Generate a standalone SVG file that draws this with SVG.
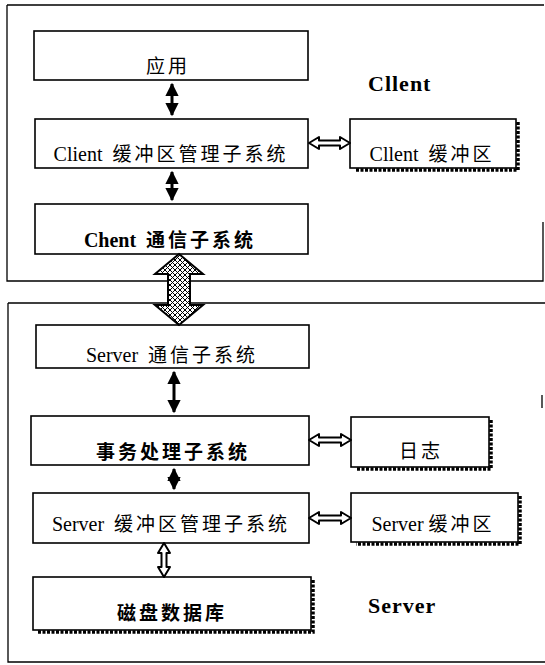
<svg xmlns="http://www.w3.org/2000/svg" width="545" height="665" viewBox="0 0 545 665">
  <style>
    .frame { fill: none; stroke: #000; stroke-width: 1.3; }
    .box { fill: #fff; stroke: #000; stroke-width: 1.6; }
    .shadow { fill: none; stroke: #000; stroke-width: 3.5; stroke-dasharray: 3 1.5; }
    .label { font-family: "Liberation Serif", "Noto Sans CJK SC", serif; font-size: 19px; fill: #000; text-anchor: middle; letter-spacing: 3px; }
    .lat { letter-spacing: 0; font-size: 20px; }
    .bold { font-weight: bold; }
    .side { font-family: "Liberation Serif", serif; font-size: 22px; font-weight: bold; fill: #000; letter-spacing: 1px; }
    .solid { stroke: #000; stroke-width: 3; marker-start: url(#tri); marker-end: url(#tri); }
    .hollow { fill: #fff; stroke: #000; stroke-width: 2; stroke-linejoin: round; }
    .big { fill: url(#hatch); stroke: #000; stroke-width: 2; }
  </style>
  <defs>
    <marker id="tri" viewBox="0 0 10 10" refX="9" refY="5" markerWidth="4.6" markerHeight="4.4" orient="auto-start-reverse">
      <path d="M0,0 L10,5 L0,10 z" fill="#000"/>
    </marker>
    <pattern id="hatch" width="5" height="5" patternUnits="userSpaceOnUse">
      <rect width="5" height="5" fill="#fff"/>
      <path d="M0,0 L5,5 M5,0 L0,5" stroke="#000" stroke-width="1"/>
    </pattern>
  </defs>

  <!-- client and server frames -->
  <g id="client-frame">
    <path class="frame" d="M7,5 H544 M7,5 V281 H543 V222"/>
    <text class="side" x="368" y="91">Cllent</text>
  </g>
  <g id="server-frame">
    <path class="frame" d="M8,303 H545 M8,303 V662 H545 M542,395 V408"/>
    <text class="side" x="368" y="613">Server</text>
  </g>

  <!-- client side -->
  <g id="app">
    <rect class="box" x="34" y="31" width="274" height="49"/>
    <text class="label" x="168" y="73">应用</text>
  </g>
  <g id="client-buffer-manager">
    <rect class="box" x="35" y="119" width="273" height="49"/>
    <text class="label" x="171" y="161"><tspan class="lat">Client</tspan><tspan dx="10">缓冲区管理子系统</tspan></text>
  </g>
  <g id="client-buffer">
    <path class="shadow" d="M518,122 V170 H355"/>
    <rect class="box" x="350" y="119" width="166" height="49"/>
    <text class="label" x="432" y="161"><tspan class="lat">Cllent</tspan><tspan dx="10">缓冲区</tspan></text>
  </g>
  <g id="client-comm">
    <rect class="box" x="35" y="204" width="273" height="50"/>
    <text class="label bold" x="170" y="247"><tspan class="lat">Chent</tspan><tspan dx="10">通信子系统</tspan></text>
  </g>

  <!-- server side -->
  <g id="server-comm">
    <rect class="box" x="36" y="325" width="273" height="43"/>
    <text class="label" x="172" y="362"><tspan class="lat">Server</tspan><tspan dx="10">通信子系统</tspan></text>
  </g>
  <g id="transaction">
    <rect class="box" x="31" y="416" width="278" height="49"/>
    <text class="label bold" x="173" y="459">事务处理子系统</text>
  </g>
  <g id="log">
    <path class="shadow" d="M491,420 V469 H356"/>
    <rect class="box" x="351" y="417" width="138" height="50"/>
    <text class="label" x="421" y="458">日志</text>
  </g>
  <g id="server-buffer-manager">
    <rect class="box" x="33" y="493" width="276" height="50"/>
    <text class="label" x="171" y="531"><tspan class="lat">Server</tspan><tspan dx="10">缓冲区管理子系统</tspan></text>
  </g>
  <g id="server-buffer">
    <path class="shadow" d="M520,496 V544 H356"/>
    <rect class="box" x="351" y="493" width="167" height="49"/>
    <text class="label" x="433" y="531"><tspan class="lat">Server</tspan><tspan dx="5">缓冲区</tspan></text>
  </g>
  <g id="disk-database">
    <path class="shadow" d="M313,580 V632 H38"/>
    <rect class="box" x="33" y="577" width="278" height="53"/>
    <text class="label bold" x="172" y="620">磁盘数据库</text>
  </g>

  <!-- connectors -->
  <g id="connectors">
    <line class="solid" x1="172" y1="84" x2="172" y2="115"/>
    <line class="solid" x1="172" y1="172" x2="172" y2="200"/>
    <line class="solid" x1="174" y1="372" x2="174" y2="412"/>
    <line class="solid" x1="174" y1="469" x2="174" y2="489"/>
    <polygon class="hollow" points="309,143 319,137 319,140.5 340,140.5 340,137 350,143 340,149 340,145.5 319,145.5 319,149"/>
    <polygon class="hollow" points="309,440 319,434 319,437.5 341,437.5 341,434 351,440 341,446 341,442.5 319,442.5 319,446"/>
    <polygon class="hollow" points="309,518 319,512 319,515.5 341,515.5 341,512 351,518 341,524 341,520.5 319,520.5 319,524"/>
    <polygon class="hollow" points="164,543 170,553 166.5,553 166.5,567 170,567 164,577 158,567 161.5,567 161.5,553 158,553"/>
    <polygon class="big" points="179,254 203,274 190,274 190,305 203,305 179,325 155,305 168,305 168,274 155,274"/>
  </g>
</svg>
